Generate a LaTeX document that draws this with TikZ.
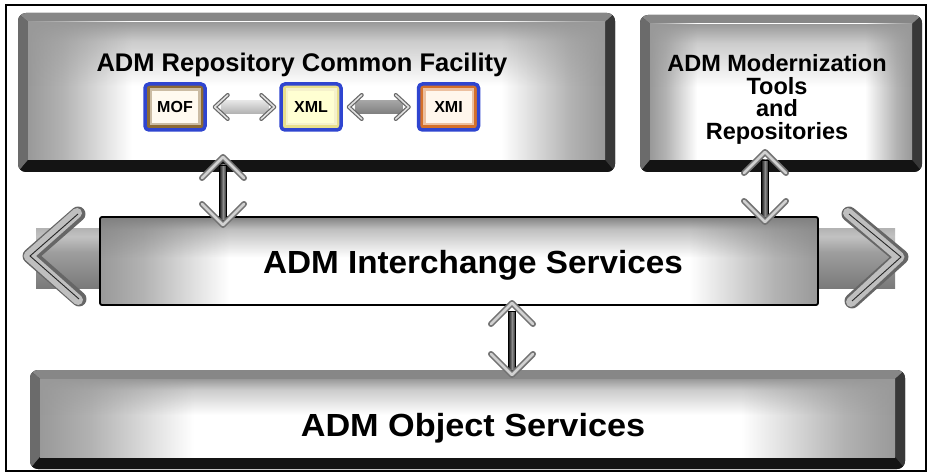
\documentclass[tikz,border=0pt]{standalone}
\usepackage{fontspec}
\setmainfont{Liberation Sans}
\usepackage{graphicx}
\usetikzlibrary{fadings,calc}
\definecolor{bluebd}{HTML}{2F45D0}
\definecolor{mofc}{HTML}{8C6A35}
\definecolor{mofi}{HTML}{FFFAF0}
\definecolor{xmlc}{HTML}{E8DF8C}
\definecolor{xmli}{HTML}{FFFFD2}
\definecolor{xmic}{HTML}{D4702A}
\definecolor{xmii}{HTML}{FFF6EC}
\pgfdeclarehorizontalshading{panelh}{100bp}{color(0bp)=(black!40); color(25bp)=(black!40); color(28bp)=(black!30); color(34bp)=(white); color(66bp)=(white); color(72bp)=(black!30); color(75bp)=(black!40); color(100bp)=(black!40)}
\pgfdeclarehorizontalshading{shafth}{100bp}{color(0bp)=(black!90); color(25bp)=(black!90); color(50bp)=(black!45); color(75bp)=(black!85); color(100bp)=(black!85)}
\pgfdeclareverticalshading{bandv}{100bp}{color(0bp)=(black!52); color(25bp)=(black!52); color(55bp)=(black!38); color(68bp)=(black!24); color(75bp)=(black!30); color(100bp)=(black!30)}
\pgfdeclareverticalshading{topfadesh}{100bp}{color(0bp)=(black); color(25bp)=(black); color(52bp)=(black); color(68bp)=(gray); color(75bp)=(white); color(100bp)=(white)}
\pgfdeclarefading{topfade}{\pgfuseshading{topfadesh}}
\tikzset{
  bevel/.style={rectangle, rounded corners=8pt, inner sep=0pt, fill=black!88,
    path picture={
      \path (path picture bounding box.north west) coordinate (q1)
            (path picture bounding box.north east) coordinate (q2)
            (path picture bounding box.south east) coordinate (q3)
            (path picture bounding box.south west) coordinate (q4);
      \fill[black!47, sharp corners] (q1) -- (q2) -- ([shift={(-10pt,-9pt)}]q2) -- ([shift={(10pt,-9pt)}]q1) -- cycle;
      \fill[black!58, sharp corners] (q1) -- ([shift={(10pt,-9pt)}]q1) -- ([shift={(10pt,12pt)}]q4) -- (q4) -- cycle;
      \fill[black!78, sharp corners] (q2) -- (q3) -- ([shift={(-10pt,12pt)}]q3) -- ([shift={(-10pt,-9pt)}]q2) -- cycle;
      \fill[black!92, sharp corners] (q4) -- (q3) -- ([shift={(-10pt,12pt)}]q3) -- ([shift={(10pt,12pt)}]q4) -- cycle;
      \shade[shading=panelh, sharp corners] ([shift={(10pt,-9pt)}]q1) rectangle ([shift={(-10pt,12pt)}]q3);
      \fill[black!40, sharp corners, path fading=topfade] ([shift={(10pt,-9pt)}]q1) rectangle ([shift={(-10pt,12pt)}]q3);
    }},
  interst/.style={rectangle, draw=black, line width=1.8pt, rounded corners=2pt, inner sep=0pt,
    path picture={
      \shade[shading=panelh, sharp corners] (path picture bounding box.south west) rectangle (path picture bounding box.north east);
      \fill[black!50, sharp corners, path fading=topfade] (path picture bounding box.south west) rectangle (path picture bounding box.north east);
    }},
  smallb/.style n args={2}{draw=bluebd, line width=3.5pt, rounded corners=4pt, inner sep=0pt,
    minimum width=60pt, minimum height=46pt, font=\bfseries\fontsize{16}{18}\selectfont,
    path picture={
      \fill[#1, sharp corners] (path picture bounding box.south west) rectangle (path picture bounding box.north east);
      \fill[#1!45!white, sharp corners] ([shift={(4.5pt,4.5pt)}]path picture bounding box.south west) rectangle ([shift={(-4.5pt,-4.5pt)}]path picture bounding box.north east);
      \fill[#2, sharp corners] ([shift={(7pt,7pt)}]path picture bounding box.south west) rectangle ([shift={(-7pt,-7pt)}]path picture bounding box.north east);
    }},
  chevout/.style={line width=6pt, black!55, line cap=round, line join=round},
  chevin/.style={line width=2.6pt, black!18, line cap=round, line join=round},
  smallchevout/.style={line width=4pt, black!60, line cap=round, line join=round},
  smallchevin/.style={line width=1.6pt, black!12, line cap=round, line join=round},
  bigchevout/.style={line width=15pt, black!60, line cap=round, line join=round},
  bigchevin/.style={line width=10pt, black!25, line cap=round, line join=round},
  bigchevline/.style={line width=0.9pt, black!85},
  bigtext/.style={inner sep=0pt, anchor=base, font=\bfseries\fontsize{32}{36}\selectfont},
}
\newcommand\vdarrow[2]{%
  \shadedraw[shading=shafth, draw=black, line width=0.8pt] ($(#1)+(-3.5,8)$) rectangle ($(#2)+(3.5,-5)$);
  \draw[chevout] ($(#1)+(-21,21)$) -- (#1) -- ($(#1)+(21,21)$);
  \draw[chevin] ($(#1)+(-21,21)$) -- (#1) -- ($(#1)+(21,21)$);
  \draw[chevout] ($(#2)+(-21,-21)$) -- (#2) -- ($(#2)+(21,-21)$);
  \draw[chevin] ($(#2)+(-21,-21)$) -- (#2) -- ($(#2)+(21,-21)$);
}
\newcommand\hdarrow[4]{%
  \shade[top color=#3, bottom color=#4] ($(#1)+(6,-6.5)$) rectangle ($(#2)+(-6,6.5)$);
  \draw[smallchevout] ($(#1)+(13,-12)$) -- (#1) -- ($(#1)+(13,12)$);
  \draw[smallchevin] ($(#1)+(13,-12)$) -- (#1) -- ($(#1)+(13,12)$);
  \draw[smallchevout] ($(#2)+(-13,-12)$) -- (#2) -- ($(#2)+(-13,12)$);
  \draw[smallchevin] ($(#2)+(-13,-12)$) -- (#2) -- ($(#2)+(-13,12)$);
}
\newcommand\bigchev[3]{%
  \draw[bigchevout] (#1) -- (#2) -- (#3);
  \draw[bigchevin] ($(#1)+(-1,-1)$) -- ($(#2)+(-1.5,0)$) -- ($(#3)+(-1,1)$);
  \draw[bigchevline] (#1) -- (#2) -- (#3);
}
\begin{document}
\begin{tikzpicture}[x=1pt, y=-1pt]
\useasboundingbox (0,0) rectangle (932,476);
\fill[white] (0,0) rectangle (932,476);
\draw[line width=2.4pt] (6,5) rectangle (926,471);

% big horizontal arrow behind interchange
\coordinate (lc1) at (78,214);
\coordinate (lt) at (30,256);
\coordinate (lc2) at (79,299);
\coordinate (rc1) at (849,214);
\coordinate (rt) at (901,257);
\coordinate (rc2) at (852,301);
\shade[shading=bandv] ($(lt)+(6,-28)$) rectangle ($(rt)+(-6,31)$);
\bigchev{lc1}{lt}{lc2}
\bigchev{rc1}{rt}{rc2}

% boxes
\node[bevel, minimum width=597pt, minimum height=159pt] (repo) at (316.5,92.5) {};
\node[bevel, minimum width=282pt, minimum height=157pt] (modern) at (781,93.5) {};
\node[interst, minimum width=718pt, minimum height=88pt] (inter) at (459,261) {};
\node[bevel, minimum width=875pt, minimum height=99pt] (obj) at (467.5,419.5) {};

% texts
\node[bigtext] (intertext) at (473,273) {\scalebox{1.04}[1]{ADM Interchange Services}};
\node[bigtext] (objtext) at (473,436) {\scalebox{1.07}[1]{ADM Object Services}};
\node[anchor=base, inner sep=0pt, font=\bfseries\fontsize{25.5}{28}\selectfont] (repotitle) at (302,72) {ADM Repository Common Facility};
\node[anchor=north, align=center, inner sep=0pt, font=\bfseries\fontsize{23.5}{22.6}\selectfont] (modtext) at (777,54.5) {ADM Modernization\\Tools\\and\\Repositories};

% small boxes
\node[smallb={mofc}{mofi}] (mof) at (175,107) {MOF};
\node[smallb={xmlc}{xmli}] (xml) at (311,107) {XML};
\node[smallb={xmic}{xmii}] (xmi) at (448.5,107) {XMI};
\coordinate (m1) at ($(mof.east)+(8,0)$);
\coordinate (m2) at ($(xml.west)+(-5,0)$);
\coordinate (m3) at ($(xml.east)+(6,0)$);
\coordinate (m4) at ($(xmi.west)+(-8,0)$);
\hdarrow{m1}{m2}{black!10}{black!30}
\hdarrow{m3}{m4}{black!35}{black!50}

% vertical double arrows
\coordinate (a1) at (223,157);
\coordinate (a2) at (223,225);
\coordinate (b1) at (765,152);
\coordinate (b2) at (765,222);
\coordinate (c1) at (512,303);
\coordinate (c2) at (512,375);
\vdarrow{a1}{a2}
\vdarrow{b1}{b2}
\vdarrow{c1}{c2}
\end{tikzpicture}
\end{document}
